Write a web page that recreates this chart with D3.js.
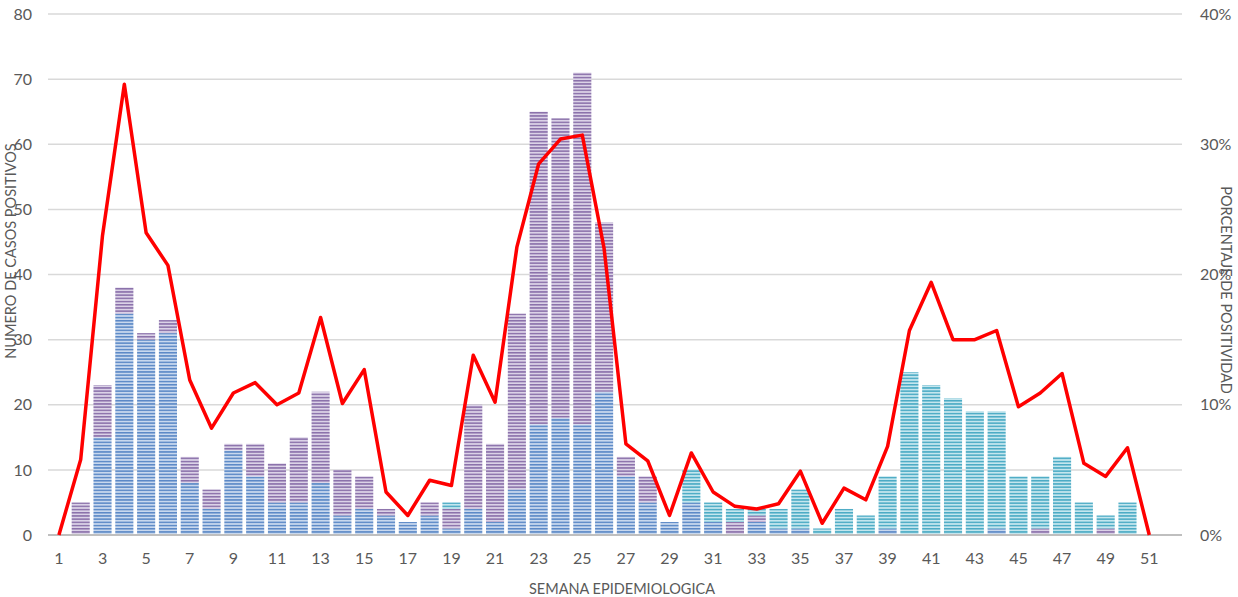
<!DOCTYPE html>
<html>
<head>
<meta charset="utf-8">
<script src="https://cdn.jsdelivr.net/npm/d3@7"></script>
<style>
  body { margin: 0; background: #fff; }
  text { font-family: Lato, "Open Sans", sans-serif; fill: #595959; }
</style>
</head>
<body>
<div class="canvas"></div>
<script>
const weeks = d3.range(1, 53)
const tickWeeks = d3.range(1, 52, 2)

// cases per week, stacked bottom to top
const blue   = [0,0,15,34,30,31,8,4,13,9,5,5,8,3,4,3,2,3,1,4,2,7,17,18,17,22,9,5,2,5,2,0,2,1,1,0,0,0,1,0,0,0,0,1,0,0,0,0,0,0,0,0]
const purple = [0,5,8,4,1,2,4,3,1,5,6,10,14,7,5,1,0,2,3,16,12,27,48,46,54,26,3,4,0,0,0,2,1,0,0,0,0,0,0,0,0,0,0,0,0,1,0,0,1,0,0,0]
const teal   = [0,0,0,0,0,0,0,0,0,0,0,0,0,0,0,0,0,0,1,0,0,0,0,0,0,0,0,0,0,5,3,2,1,3,6,1,4,3,8,25,23,21,19,18,9,8,12,5,2,5,0,0]

// percentage of positivity (week 1..51)
const pct = [0,5.8,23.0,34.6,23.2,20.7,11.9,8.2,10.9,11.7,10.0,10.9,16.7,10.1,12.7,3.3,1.5,4.2,3.8,13.8,10.2,22.1,28.5,30.4,30.7,22.0,7.0,5.7,1.5,6.3,3.3,2.2,2.0,2.4,4.9,0.9,3.6,2.7,6.8,15.7,19.4,15.0,15.0,15.7,9.85,10.9,12.4,5.5,4.5,6.7,0]

const seriesKeys = ['blue', 'purple', 'teal']
const colours = {
    blue:   { dark: '#5a88c6', light: '#c8d8ee' },
    purple: { dark: '#8a70aa', light: '#dbd2e7' },
    teal:   { dark: '#4aaac4', light: '#c4e6ee' }
}

const dimensions = { width: 1238, height: 597 }
const plot = { left: 48, right: 1182, top: 14, bottom: 535 }

const svg = d3.select('.canvas')
    .append('svg')
    .attr('width', dimensions.width)
    .attr('height', dimensions.height)

// striped fills
const defs = svg.append('defs')
seriesKeys.forEach(key => {
    const p = defs.append('pattern')
        .attr('id', 'stripe-' + key)
        .attr('patternUnits', 'userSpaceOnUse')
        .attr('width', 4).attr('height', 3.2)
    p.append('rect').attr('width', 4).attr('height', 3.2).attr('fill', colours[key].dark)
    p.append('rect').attr('y', 1.5).attr('width', 4).attr('height', 1.7).attr('fill', colours[key].light)
})

const x = d3.scaleBand()
    .domain(weeks)
    .range([plot.left, plot.right])
    .paddingInner(0.17)
    .paddingOuter(0.085)

const y = d3.scaleLinear().domain([0, 80]).range([plot.bottom, plot.top])
const y2 = d3.scaleLinear().domain([0, 40]).range([plot.bottom, plot.top])

// gridlines
svg.append('g')
    .selectAll('line')
    .data(y.ticks(8).filter(d => d > 0))
    .enter().append('line')
    .attr('x1', plot.left).attr('x2', plot.right)
    .attr('y1', d => y(d)).attr('y2', d => y(d))
    .attr('stroke', '#d9d9d9')
    .attr('stroke-width', 1.5)

// stacked bars
const table = weeks.map((w, i) => ({ week: w, blue: blue[i], purple: purple[i], teal: teal[i] }))
const stack = d3.stack().keys(seriesKeys)(table)

svg.append('g')
    .selectAll('g')
    .data(stack)
    .enter().append('g')
    .attr('fill', d => `url(#stripe-${d.key})`)
    .selectAll('rect')
    .data(d => d.filter(s => s[1] > s[0]))
    .enter().append('rect')
    .attr('x', d => x(d.data.week))
    .attr('width', x.bandwidth())
    .attr('y', d => y(d[1]))
    .attr('height', d => y(d[0]) - y(d[1]))

// baseline
svg.append('line')
    .attr('x1', plot.left).attr('x2', plot.right)
    .attr('y1', plot.bottom).attr('y2', plot.bottom)
    .attr('stroke', '#bfbfbf')
    .attr('stroke-width', 2)

// positivity line
const line = d3.line()
    .x((d, i) => x(weeks[i]) + x.bandwidth() / 2)
    .y(d => y2(d))

svg.append('path')
    .datum(pct)
    .attr('d', line)
    .attr('fill', 'none')
    .attr('stroke', '#ff0000')
    .attr('stroke-width', 3.5)
    .attr('stroke-linejoin', 'round')

// axes
const leftAxis = d3.axisLeft(y).ticks(8).tickSize(0).tickPadding(16)
const rightAxis = d3.axisRight(y2).ticks(4).tickSize(0).tickPadding(18).tickFormat(d => d + '%')
const bottomAxis = d3.axisBottom(x).tickValues(tickWeeks).tickSize(0).tickPadding(18)

const styleAxis = g => {
    g.select('.domain').remove()
    g.selectAll('text').style('font-size', '16px').attr('fill', '#595959')
        .style('font-family', 'Lato, "Open Sans", sans-serif')
}

svg.append('g').attr('transform', `translate(${plot.left}, 0)`).call(leftAxis).call(styleAxis)
svg.append('g').attr('transform', `translate(${plot.right}, 0)`).call(rightAxis).call(styleAxis)
svg.append('g').attr('transform', `translate(0, ${plot.bottom})`).call(bottomAxis).call(styleAxis)

// axis titles
svg.append('text')
    .attr('transform', 'translate(16, 251) rotate(-90)')
    .attr('text-anchor', 'middle')
    .style('font-size', '14.5px')
    .text('NUMERO DE CASOS POSITIVOS')

svg.append('text')
    .attr('transform', 'translate(1221, 290) rotate(90)')
    .attr('text-anchor', 'middle')
    .style('font-size', '14.5px')
    .text('PORCENTAJE DE POSITIVIDAD')

svg.append('text')
    .attr('x', 622).attr('y', 594)
    .attr('text-anchor', 'middle')
    .style('font-size', '14.5px')
    .text('SEMANA EPIDEMIOLOGICA')
</script>
</body>
</html>
